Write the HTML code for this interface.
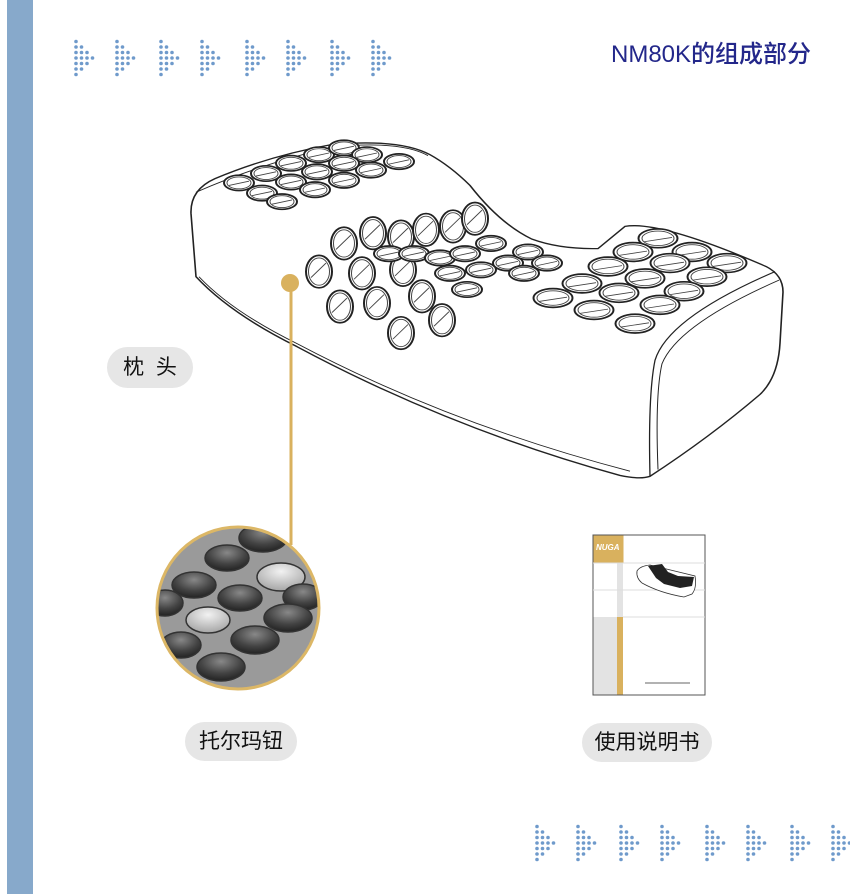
<!DOCTYPE html>
<html><head><meta charset="utf-8"><style>
html,body{margin:0;padding:0;background:#fff}
body{width:850px;height:894px;position:relative;overflow:hidden;font-family:"Liberation Sans","Noto Sans CJK SC",sans-serif}
.bar{position:absolute;left:7px;top:0;width:26px;height:894px;background:#87a9cb}
.title{position:absolute;left:611px;top:34px;font-size:24px;font-weight:500;color:#23278a;white-space:nowrap}
.pill{position:absolute;background:#e6e6e6;border-radius:21px;color:#111;font-size:21px;text-align:center;white-space:nowrap}
</style></head><body>
<div class="bar"></div>
<div class="title">NM80K的组成部分</div>
<svg width="850" height="894" style="position:absolute;left:0;top:0">
<defs>
<g id="arr" fill="#6f9acb">
<circle cx="0" cy="-16.5" r="1.8"/><circle cx="0" cy="-11" r="1.8"/><circle cx="0" cy="-5.5" r="1.8"/><circle cx="0" cy="0" r="1.8"/><circle cx="0" cy="5.5" r="1.8"/><circle cx="0" cy="11" r="1.8"/><circle cx="0" cy="16.5" r="1.8"/>
<circle cx="5.5" cy="-11" r="1.8"/><circle cx="5.5" cy="-5.5" r="1.8"/><circle cx="5.5" cy="0" r="1.8"/><circle cx="5.5" cy="5.5" r="1.8"/><circle cx="5.5" cy="11" r="1.8"/>
<circle cx="11" cy="-5.5" r="1.8"/><circle cx="11" cy="0" r="1.8"/><circle cx="11" cy="5.5" r="1.8"/>
<circle cx="16.5" cy="0" r="1.8"/>
</g>
<g id="hs"><ellipse rx="15" ry="9" fill="#fff" stroke="#222" stroke-width="2"/><ellipse rx="12" ry="7" fill="none" stroke="#444" stroke-width="1"/><line x1="-10" y1="3" x2="10" y2="-2" stroke="#444" stroke-width="1"/></g>
<g id="hm"><ellipse rx="13" ry="19" fill="#fff" stroke="#222" stroke-width="2"/><ellipse rx="10.5" ry="16" fill="none" stroke="#444" stroke-width="1"/><line x1="-8" y1="7" x2="7" y2="-10" stroke="#444" stroke-width="1"/></g>
<g id="hr"><ellipse rx="19.5" ry="11" fill="#fff" stroke="#222" stroke-width="2"/><ellipse rx="16" ry="8.5" fill="none" stroke="#444" stroke-width="1"/><line x1="-14" y1="4" x2="14" y2="-1" stroke="#444" stroke-width="1"/></g>
<radialGradient id="bt" cx="50%" cy="30%" r="70%"><stop offset="0" stop-color="#888"/><stop offset="0.6" stop-color="#444"/><stop offset="1" stop-color="#222"/></radialGradient>
<radialGradient id="bl" cx="50%" cy="30%" r="70%"><stop offset="0" stop-color="#f2f2f2"/><stop offset="1" stop-color="#a5a5a5"/></radialGradient>
<clipPath id="cc"><circle cx="238" cy="608" r="81"/></clipPath>
</defs>
<use href="#arr" x="76" y="58"/><use href="#arr" x="117" y="58"/><use href="#arr" x="161" y="58"/><use href="#arr" x="202" y="58"/><use href="#arr" x="247" y="58"/><use href="#arr" x="288" y="58"/><use href="#arr" x="332" y="58"/><use href="#arr" x="373" y="58"/>
<use href="#arr" x="537" y="843"/><use href="#arr" x="578" y="843"/><use href="#arr" x="621" y="843"/><use href="#arr" x="662" y="843"/><use href="#arr" x="707" y="843"/><use href="#arr" x="748" y="843"/><use href="#arr" x="792" y="843"/><use href="#arr" x="833" y="843"/>

<!-- pillow -->
<g transform="matrix(1,0,0,0.853,0,19.1)">
<g fill="none" stroke="#222" stroke-width="1.6">
<path d="M196,302 L191,228 Q190,200 215,187 Q270,160 332,147 Q400,140 430,159 Q450,172 470,195 Q500,240 532,258 Q560,270 598,269 L625,243 Q660,236 766,290 Q783,300 783,320 L780,380 Q778,420 760,440 Q710,490 650,536 Q640,540 620,535 Q450,480 297,384 Q230,345 196,302 Z"/>
<path d="M199,302 Q232,343 298,381 Q450,475 630,530" stroke-width="1"/>
<path d="M650,536 Q648,440 655,400 Q668,350 775,296" stroke-width="1.3"/>
<path d="M658,528 Q655,440 662,404 Q678,358 779,306" stroke-width="1"/>
<path d="M196,203 Q260,170 332,150 Q400,142 428,160" stroke-width="1"/>
</g>
<use href="#hs" x="239" y="192"/><use href="#hs" x="262" y="204"/><use href="#hs" x="282" y="214"/><use href="#hs" x="266" y="181"/><use href="#hs" x="291" y="169"/><use href="#hs" x="319" y="159"/><use href="#hs" x="344" y="151"/><use href="#hs" x="367" y="159"/><use href="#hs" x="399" y="167"/><use href="#hs" x="371" y="177"/><use href="#hs" x="344" y="169"/><use href="#hs" x="317" y="179"/><use href="#hs" x="291" y="191"/><use href="#hs" x="315" y="200"/><use href="#hs" x="344" y="189"/>
<use href="#hm" x="319" y="296"/><use href="#hm" x="340" y="337"/><use href="#hm" x="344" y="263"/><use href="#hm" x="362" y="298"/><use href="#hm" x="377" y="333"/><use href="#hm" x="373" y="251"/><use href="#hm" x="401" y="255"/><use href="#hm" x="426" y="247"/><use href="#hm" x="453" y="243"/><use href="#hm" x="475" y="234"/><use href="#hm" x="403" y="294"/><use href="#hm" x="422" y="325"/><use href="#hm" x="401" y="368"/><use href="#hm" x="442" y="353"/>
<use href="#hs" x="389" y="275"/><use href="#hs" x="414" y="275"/><use href="#hs" x="440" y="280"/><use href="#hs" x="465" y="275"/><use href="#hs" x="491" y="263"/><use href="#hs" x="467" y="317"/><use href="#hs" x="450" y="298"/><use href="#hs" x="481" y="294"/><use href="#hs" x="508" y="286"/><use href="#hs" x="528" y="273"/><use href="#hs" x="547" y="286"/><use href="#hs" x="524" y="298"/>
<use href="#hr" x="658" y="257"/><use href="#hr" x="633" y="273"/><use href="#hr" x="692" y="273"/><use href="#hr" x="608" y="290"/><use href="#hr" x="670" y="286"/><use href="#hr" x="727" y="286"/><use href="#hr" x="582" y="310"/><use href="#hr" x="645" y="304"/><use href="#hr" x="707" y="302"/><use href="#hr" x="553" y="327"/><use href="#hr" x="619" y="321"/><use href="#hr" x="684" y="319"/><use href="#hr" x="594" y="341"/><use href="#hr" x="660" y="335"/><use href="#hr" x="635" y="357"/>
</g>

<!-- gold connector -->
<line x1="291" y1="283" x2="291" y2="545" stroke="#d9b15e" stroke-width="3"/>
<circle cx="290" cy="283" r="9" fill="#d9b15e"/>

<!-- photo circle -->
<g clip-path="url(#cc)">
<rect x="150" y="520" width="180" height="180" fill="#9a9a9a"/>
<g stroke="#333" stroke-width="1.5">
<ellipse cx="263" cy="538" rx="24" ry="14" fill="url(#bt)"/>
<ellipse cx="227" cy="558" rx="22" ry="13" fill="url(#bt)"/>
<ellipse cx="194" cy="585" rx="22" ry="13" fill="url(#bt)"/>
<ellipse cx="281" cy="577" rx="24" ry="14" fill="url(#bl)"/>
<ellipse cx="240" cy="598" rx="22" ry="13" fill="url(#bt)"/>
<ellipse cx="303" cy="597" rx="20" ry="13" fill="url(#bt)"/>
<ellipse cx="165" cy="603" rx="18" ry="13" fill="url(#bt)"/>
<ellipse cx="208" cy="620" rx="22" ry="13" fill="url(#bl)"/>
<ellipse cx="288" cy="618" rx="24" ry="14" fill="url(#bt)"/>
<ellipse cx="181" cy="645" rx="20" ry="13" fill="url(#bt)"/>
<ellipse cx="255" cy="640" rx="24" ry="14" fill="url(#bt)"/>
<ellipse cx="221" cy="667" rx="24" ry="14" fill="url(#bt)"/>
</g>
</g>
<circle cx="238" cy="608" r="81" fill="none" stroke="#dcb766" stroke-width="3"/>

<!-- manual -->
<rect x="593" y="535" width="112" height="160" fill="#fff" stroke="#555" stroke-width="1"/>
<rect x="593.5" y="535.5" width="30" height="28" fill="#d9b15e"/>
<text x="596" y="550" font-size="8" font-weight="bold" font-style="italic" fill="#fff">NUGA</text>
<rect x="617" y="563" width="6" height="54" fill="#e3e3e3"/>
<rect x="593.5" y="617" width="24" height="77.5" fill="#e3e3e3"/>
<rect x="617" y="617" width="6" height="77.5" fill="#d9b15e"/>
<line x1="593" y1="563" x2="705" y2="563" stroke="#ddd"/>
<line x1="593" y1="590" x2="705" y2="590" stroke="#ddd"/>
<line x1="623" y1="617" x2="705" y2="617" stroke="#ddd"/>
<path d="M637,571 Q640,566 650,565 L695,576 Q697,588 692,594 L684,597 Q660,593 642,583 Q636,578 637,571 Z" fill="#fff" stroke="#333" stroke-width="0.8"/>
<path d="M648,566 L662,564 L668,572 L678,576 L694,577 L692,586 L680,588 L664,584 L656,578 Z" fill="#222"/>
<line x1="645" y1="683" x2="690" y2="683" stroke="#999" stroke-width="1.5"/>
</svg>
<div class="pill" style="left:107px;top:347px;width:86px;height:41px;line-height:41px;font-size:21px">枕&nbsp;&nbsp;头</div>
<div class="pill" style="left:185px;top:722px;width:112px;height:39px;line-height:39px">托尔玛钮</div>
<div class="pill" style="left:582px;top:723px;width:130px;height:39px;line-height:39px">使用说明书</div>
</body></html>
